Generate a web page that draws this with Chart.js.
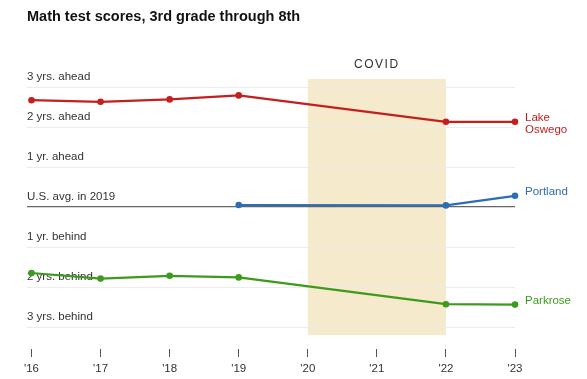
<!DOCTYPE html>
<html>
<head>
<meta charset="utf-8">
<script src="https://cdn.jsdelivr.net/npm/chart.js@4/dist/chart.umd.min.js"></script>
<style>
  body { margin: 0; background: #fff; }
  #wrap { width: 587px; height: 379px; }
</style>
</head>
<body>
<div id="wrap"><canvas id="myChart" width="587" height="379"></canvas></div>
<script>
// data
const years = [2016, 2017, 2018, 2019, 2022, 2023];
const lakeOswego = [2.67, 2.63, 2.69, 2.79, 2.13, 2.13];
const portland = [null, null, null, 0.05, 0.04, 0.28];
const parkrose = [-1.65, -1.79, -1.72, -1.76, -2.43, -2.44];
const xTicks = [2016, 2017, 2018, 2019, 2020, 2021, 2022, 2023];
const yTicks = [-3, -2, -1, 0, 1, 2, 3];
const yTickLabels = ['3 yrs. behind', '2 yrs. behind', '1 yr. behind', 'U.S. avg. in 2019', '1 yr. ahead', '2 yrs. ahead', '3 yrs. ahead'];
const covidStart = 2020, covidEnd = 2022;

const RED = '#c41f1f', BLUE = '#2c6db3', GREEN = '#3c9a1c';
const FONT = '"Liberation Sans", Arial, sans-serif';

function pts(vals) {
  return years.map((y, i) => ({ x: y, y: vals[i] }));
}

const extras = {
  id: 'extras',
  beforeDraw(chart) {
    const c = chart.ctx, xs = chart.scales.x, ys = chart.scales.y;
    // covid band
    const x1 = xs.getPixelForValue(covidStart), x2 = xs.getPixelForValue(covidEnd);
    const t = ys.getPixelForValue(3.2), b = ys.getPixelForValue(-3.2);
    c.save();
    c.fillStyle = '#f6eacc';
    c.fillRect(x1, t, x2 - x1, b - t);
    // title
    c.fillStyle = '#121212';
    c.font = 'bold 14.5px ' + FONT;
    c.textBaseline = 'middle';
    c.textAlign = 'left';
    c.fillText('Math test scores, 3rd grade through 8th', 27, 17);
    // covid label
    c.fillStyle = '#333';
    c.font = '12px ' + FONT;
    c.textAlign = 'center';
    c.letterSpacing = '1.5px';
    c.fillText('COVID', (x1 + x2) / 2, 65);
    c.restore();
  },
  afterDatasetsDraw(chart) {
    const c = chart.ctx, ys = chart.scales.y;
    const x = chart.chartArea.right + 10;
    const last = years.length - 1;
    c.save();
    c.font = '11.5px ' + FONT;
    c.textAlign = 'left';
    c.textBaseline = 'middle';
    let y = ys.getPixelForValue(lakeOswego[last]);
    c.fillStyle = RED;
    c.fillText('Lake', x, y - 4);
    c.fillText('Oswego', x, y + 8);
    c.fillStyle = BLUE;
    c.fillText('Portland', x, ys.getPixelForValue(portland[last]) - 4);
    c.fillStyle = GREEN;
    c.fillText('Parkrose', x, ys.getPixelForValue(parkrose[last]) - 4);
    c.restore();
  }
};

function ds(label, vals, color) {
  return {
    label: label,
    data: pts(vals),
    borderColor: color,
    backgroundColor: color,
    borderWidth: 2.2,
    pointRadius: 3.3,
    pointBorderWidth: 0,
    pointHoverRadius: 3.3,
    spanGaps: true,
    clip: false
  };
}

new Chart(document.getElementById('myChart'), {
  type: 'line',
  data: {
    datasets: [
      ds('Lake Oswego', lakeOswego, RED),
      ds('Portland', portland, BLUE),
      ds('Parkrose', parkrose, GREEN)
    ]
  },
  options: {
    responsive: false,
    animation: false,
    layout: { padding: { left: 27, right: 72, top: 79, bottom: 0 } },
    plugins: { legend: { display: false }, tooltip: { enabled: false } },
    scales: {
      x: {
        type: 'linear',
        min: 2015.935,
        max: 2023,
        afterBuildTicks: s => { s.ticks = xTicks.map(v => ({ value: v })); },
        afterFit: s => { s.height = 30; },
        border: { display: false },
        grid: { drawOnChartArea: false, drawTicks: true, tickLength: 8, tickColor: '#555', tickWidth: 1 },
        ticks: {
          padding: 5,
          color: '#333',
          font: { family: FONT, size: 11.5 },
          maxRotation: 0,
          autoSkip: false,
          callback: v => "'" + String(v).slice(2)
        }
      },
      y: {
        min: -3.55,
        max: 3.2,
        afterBuildTicks: s => { s.ticks = yTicks.map(v => ({ value: v })); },
        afterFit: s => { s.width = 0; },
        border: { display: false },
        grid: {
          drawTicks: false,
          color: ctx => ctx.tick && ctx.tick.value === 0 ? '#666' : '#ececec',
          lineWidth: ctx => ctx.tick && ctx.tick.value === 0 ? 1.3 : 1
        },
        ticks: {
          mirror: true,
          padding: 0,
          labelOffset: -10,
          color: '#333',
          font: { family: FONT, size: 11.5 },
          callback: v => yTickLabels[yTicks.indexOf(v)]
        }
      }
    }
  },
  plugins: [extras]
});
</script>
</body>
</html>
